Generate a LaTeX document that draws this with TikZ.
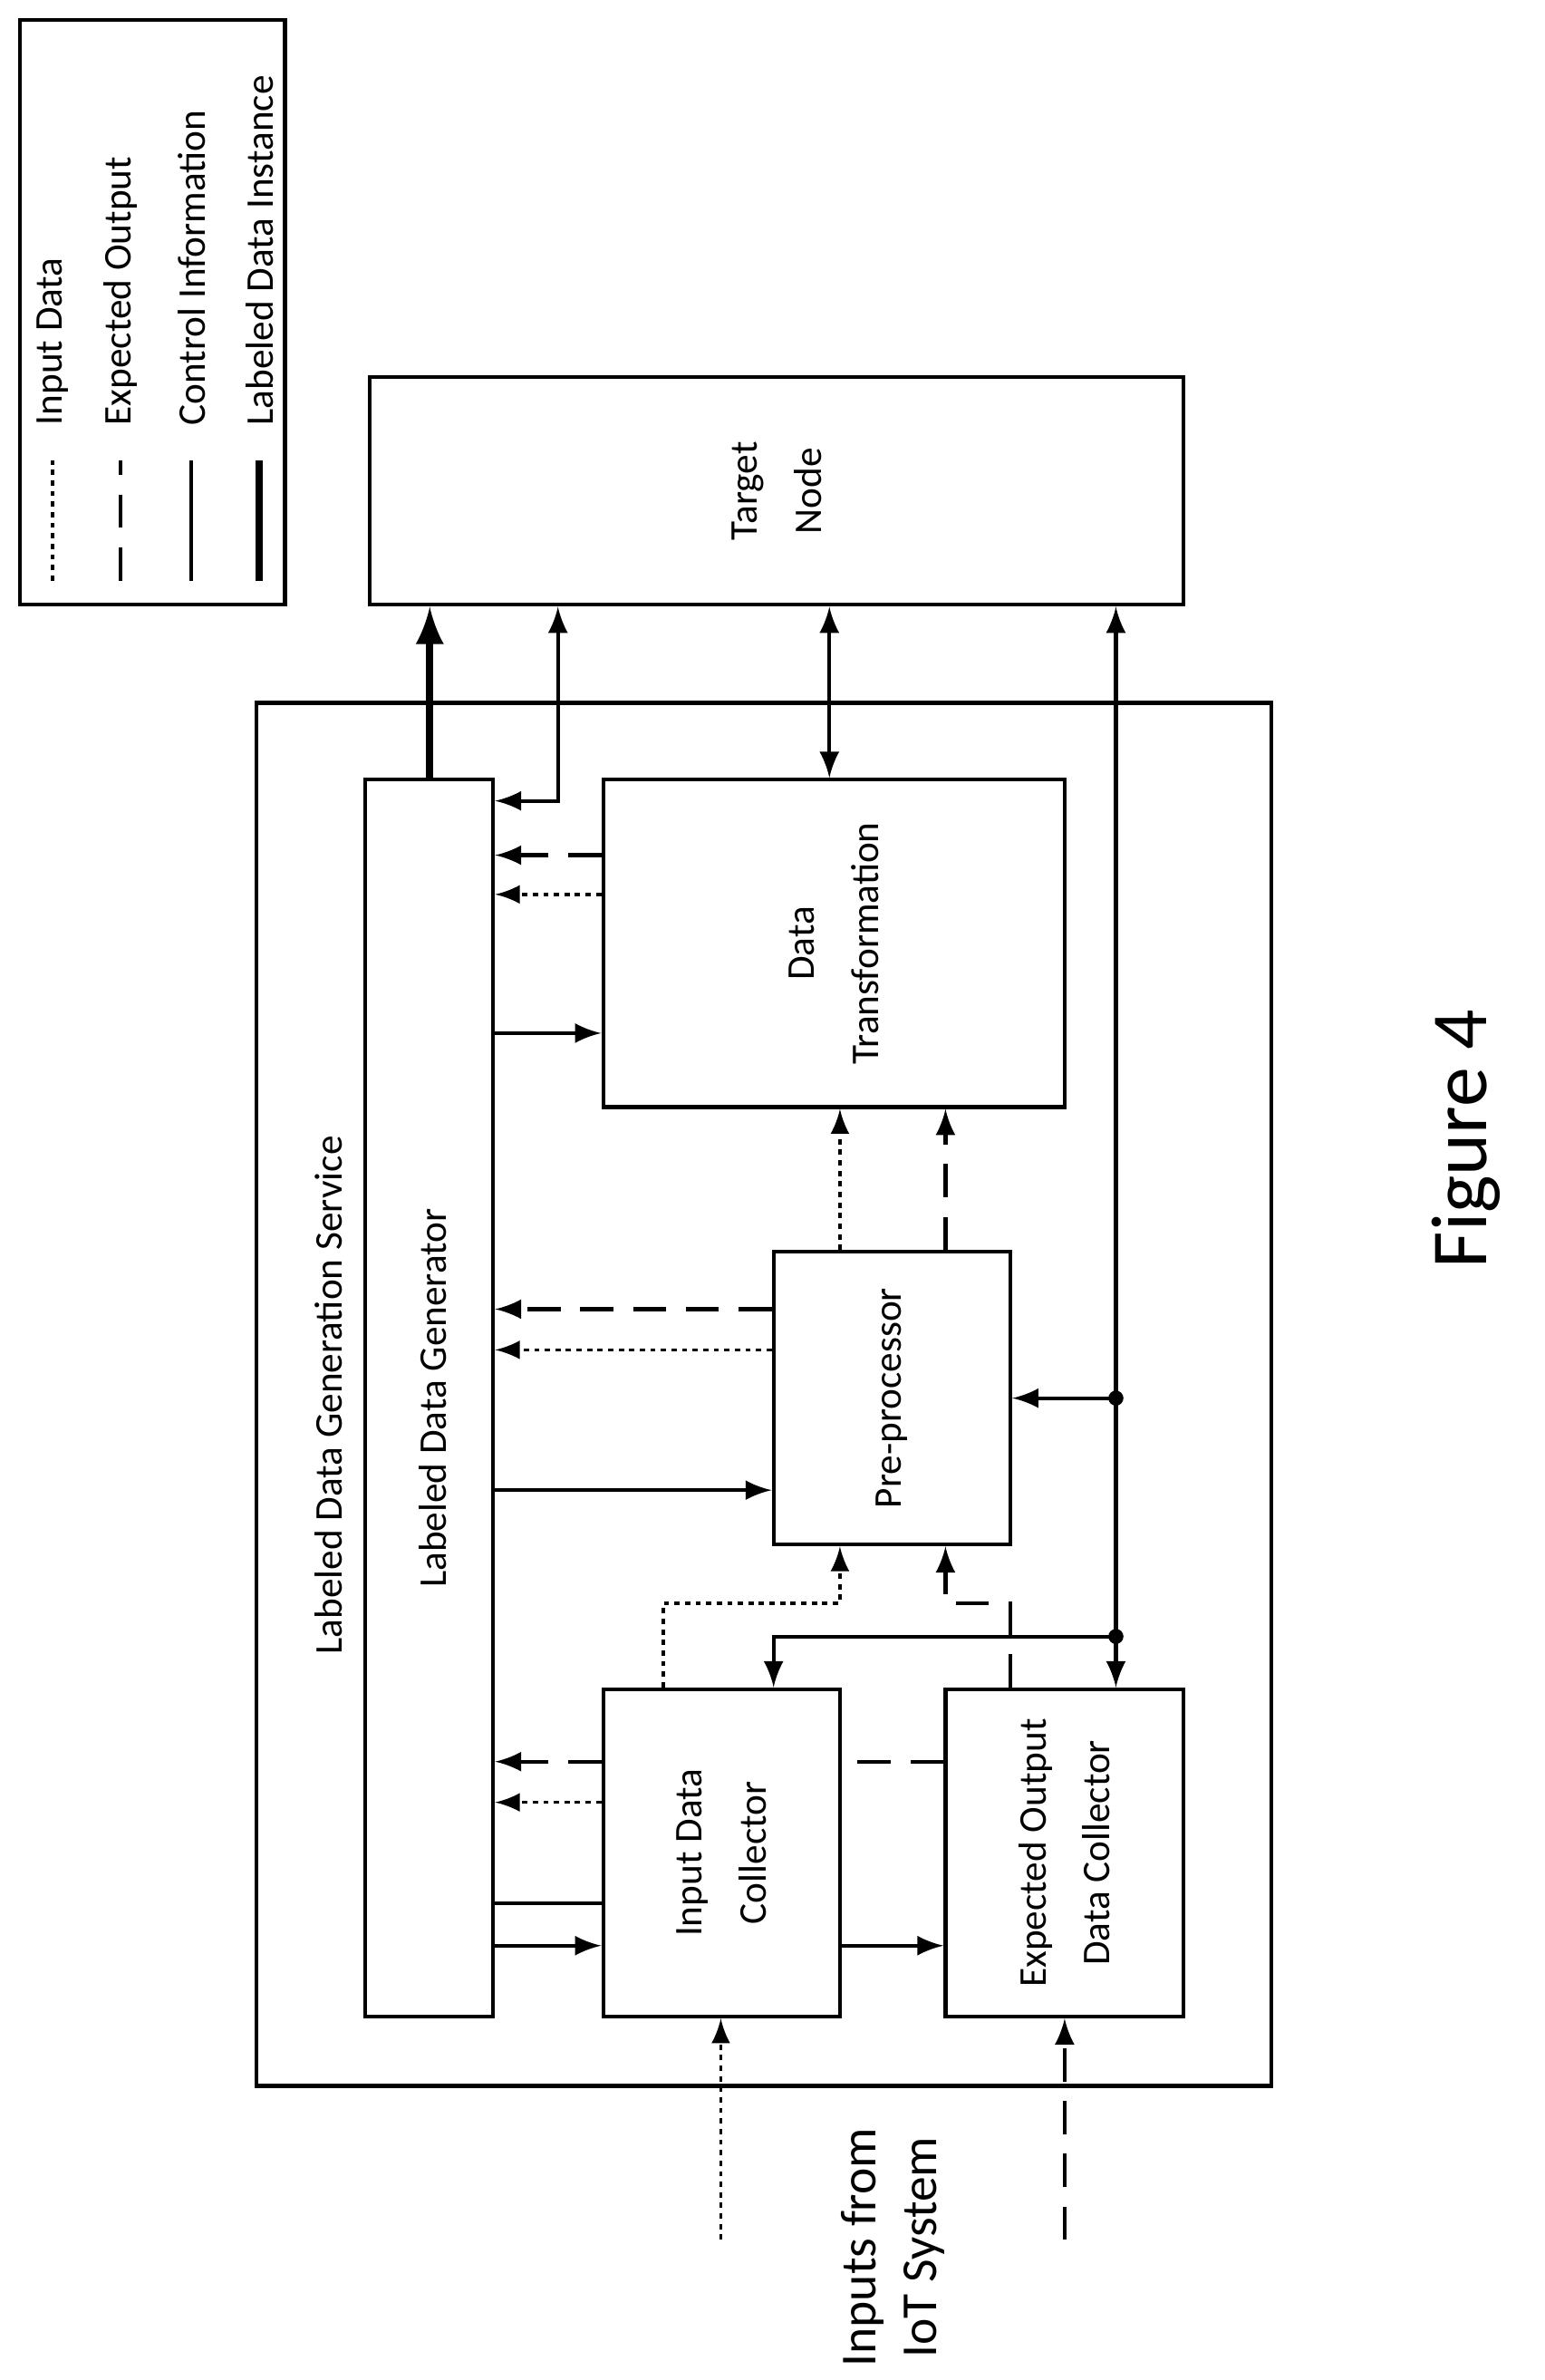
\documentclass[tikz,border=0pt]{standalone}
\usepackage{fontspec}
\setmainfont{Carlito}
\usetikzlibrary{arrows}

\begin{document}
\begin{tikzpicture}[x=0.1mm, y=-0.1mm, line width=0.25mm, >=latex,
	every node/.style={font=\fontsize{7.4}{9.2}\selectfont},
	box/.style={draw, inner sep=0pt},
	vtext/.style={rotate=90, align=center},
	dots/.style={dash pattern=on 0.35mm off 0.35mm, line width=0.22mm},
	dashd/.style={dash pattern=on 2.2mm off 1.3mm}]
	\useasboundingbox (0,0) rectangle (1024,1578);

	% legend
	\node[box, minimum width=17.6mm, minimum height=38.8mm](LEG) at (101,207){};
	\draw[dots] (35,385) -- (35,305);
	\draw[dashd] (80,385) -- (80,305);
	\draw (127,385) -- (127,305);
	\draw[line width=0.5mm] (172,385) -- (172,305);
	\node[rotate=90, anchor=west] at (35,295){Input Data};
	\node[rotate=90, anchor=west] at (80,295){Expected Output};
	\node[rotate=90, anchor=west] at (127,295){Control Information};
	\node[rotate=90, anchor=west] at (172,295){Labeled Data Instance};

	% boxes
	\node[box, minimum width=54mm, minimum height=15.1mm](TGT) at (515,325.5){};
	\node[vtext] at (TGT){Target\\[1mm]Node};
	\node[box, minimum width=67.3mm, minimum height=91.7mm](SVC) at (506.5,924.5){};
	\node[vtext] at (218,925){Labeled Data Generation Service};
	\node[box, minimum width=8.5mm, minimum height=82mm](LDG) at (284.5,927){};
	\node[vtext] at (287,927){Labeled Data Generator};
	\node[box, minimum width=30.6mm, minimum height=21.7mm](DT) at (553,625.5){};
	\node[vtext] at (DT){Data\\[1mm]Transformation};
	\node[box, minimum width=15.7mm, minimum height=19.4mm](PP) at (591.5,927){};
	\node[vtext] at (PP){Pre-processor};
	\node[box, minimum width=15.7mm, minimum height=21.7mm](IDC) at (478.5,1228.5){};
	\node[vtext] at (IDC){Input Data\\[1mm]Collector};
	\node[box, minimum width=15.8mm, minimum height=21.7mm](EODC) at (706,1228.5){};
	\node[vtext] at (EODC){Expected Output\\[1mm]Data Collector};

	% labeled data generator and target node
	\draw[line width=0.5mm, ->] (LDG.north -| 285,0) -- (TGT.south -| 285,0);
	\draw[<->] (LDG.east |- 0,531) -- (370,531) -- (TGT.south -| 370,0);
	\draw[<->] (TGT.south -| 550,0) -- (DT.north -| 550,0);
	\coordinate (J1) at (740,927);
	\coordinate (J2) at (740,1085);
	\draw[<->] (TGT.south -| J1) -- (EODC.north -| J1);
	\fill (J1) circle (5);
	\fill (J2) circle (5);
	\draw[->] (J1) -- (PP.east |- J1);
	\draw[->] (J2) -- (513,1085) -- (IDC.north -| 513,0);

	% data transformation
	\draw[dashd, ->] (DT.west |- 0,567) -- (LDG.east |- 0,567);
	\draw[dots, ->] (DT.west |- 0,593) -- (LDG.east |- 0,593);
	\draw[->] (LDG.east |- 0,685) -- (DT.west |- 0,685);

	% pre-processor
	\draw[dots, ->] (PP.north -| 557,0) -- (DT.south -| 557,0);
	\draw[dashd, ->] (PP.north -| 627,0) -- (DT.south -| 627,0);
	\draw[dashd, ->] (PP.west |- 0,868) -- (LDG.east |- 0,868);
	\draw[dots, ->] (PP.west |- 0,895) -- (LDG.east |- 0,895);
	\draw[->] (LDG.east |- 0,988) -- (PP.west |- 0,988);

	% collectors
	\draw[dots, ->] (IDC.north -| 440,0) -- (440,1063) -- (557,1063) -- (PP.south -| 557,0);
	\draw[dashd, ->] (EODC.north -| 670,0) -- (670,1063) -- (627,1063) -- (PP.south -| 627,0);
	\draw[dashd, ->] (IDC.west |- 0,1168) -- (LDG.east |- 0,1168);
	\draw[dots, ->] (IDC.west |- 0,1195) -- (LDG.east |- 0,1195);
	\draw[dashd] (EODC.west |- 0,1168) -- (IDC.east |- 0,1168);
	\draw (LDG.east |- 0,1262) -- (IDC.west |- 0,1262);
	\draw[->] (LDG.east |- 0,1290) -- (IDC.west |- 0,1290);
	\draw[->] (IDC.east |- 0,1290) -- (EODC.west |- 0,1290);

	% inputs
	\coordinate (IN1) at (478,1485);
	\coordinate (IN2) at (706,1485);
	\draw[dots, ->] (IN1) -- (IDC.south -| IN1);
	\draw[dashd, ->] (IN2) -- (EODC.south -| IN2);
	\node[vtext, font=\fontsize{9.5}{11.5}\selectfont](IOT) at (592,1490){Inputs from\\IoT System};

	\node[rotate=90, font=\fontsize{15}{18}\selectfont](FIG) at (972,755){Figure 4};
\end{tikzpicture}
\end{document}
